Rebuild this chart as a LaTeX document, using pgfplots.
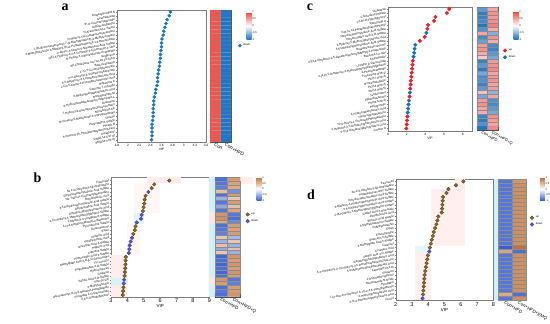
\documentclass[border=0pt]{standalone}
\usepackage{fontspec}
\setmainfont{Liberation Sans}
\newfontfamily\serifb{Liberation Serif}
\usepackage{pgfplots}
\pgfplotsset{compat=1.18}

\definecolor{adot}{RGB}{28,117,196}
\definecolor{cred}{RGB}{232,30,40}
\definecolor{cblue}{RGB}{25,110,190}
\definecolor{bup}{RGB}{140,105,40}
\definecolor{bupd}{RGB}{95,70,25}
\definecolor{bdown}{RGB}{85,80,215}
\definecolor{frame}{RGB}{125,125,125}

\pgfplotsset{
 /pgf/number format/assume math mode=true,
 colormap={rb}{rgb255(0cm)=(20,110,195); rgb255(1cm)=(255,255,255); rgb255(2cm)=(240,70,62)},
 colormap={bb}{rgb255(0cm)=(55,95,215); rgb255(1cm)=(255,255,255); rgb255(2cm)=(195,115,55)},
 vip/.style={scale only axis, anchor=south west, y dir=reverse, clip=false,
   axis line style={draw=frame, line width=0.4pt},
   tick style={draw=frame, line width=0.3pt}, tick align=outside, major tick length=1.2bp,
   xtick pos=bottom, ytick pos=left,
   yticklabel style={rotate=10, anchor=east, font=\fontsize{2.9}{3}\selectfont, inner sep=0.6bp},
   xticklabel style={inner sep=1bp},
   xlabel={VIP}, xlabel style={inner sep=0.5bp},
   legend style={draw=none, fill=none, inner sep=0pt, anchor=north west, row sep=-0.5bp, font=\fontsize{2.8}{3}\selectfont},
   legend cell align=left},
 hm/.style={scale only axis, anchor=south west, y dir=reverse, ymin=0.5, xmin=-0.5, xmax=1.5,
   ytick=\empty, xtick={0,1}, major tick length=0,
   axis line style={draw=black!70, line width=0.3pt},
   point meta min=-1, point meta max=1,
   xticklabel style={rotate=-30, anchor=north west, inner sep=0.5bp}, clip=false},
 cb/.style={colorbar, colorbar style={at={(parent axis.north east)}, anchor=north west, scale only axis,
   width=5bp, ytick={-1,-0.5,0,0.5,1}, major tick length=0, axis line style={draw=none},
   yticklabel style={font=\fontsize{2.6}{3}\selectfont, inner sep=0.6bp}}},
}

\begin{document}
\begin{tikzpicture}
\useasboundingbox (0,0) rectangle (550bp,324bp);

% ---------------- panel a ----------------
\begin{axis}[vip, at={(117bp,182bp)}, width=89bp, height=132bp,
  xmin=1.8, xmax=3.4, xtick={1.8,2,2.2,2.4,2.6,2.8,3,3.2,3.4},
  ymin=0.5, ymax=34.6, ytick={1,...,34},
  xticklabel style={font=\fontsize{3.2}{3.5}\selectfont},
  xlabel style={font=\fontsize{3.4}{3.5}\selectfont},
  yticklabels={{Gingerglycolipid B},{Isoschaftoside},{6''-O-Coumaroylgenistin},{ArgGlu-Glutamine},{N-Arachidonoyl-L-Serine},{3-Hydroxy-11Z-Octadecenoylcarnitine},{7-(11-Bromoundecyloxy)-7-(3-Methylbutanoyl)-4-Methylcoumarin},{3-Methylbutanoate 3-Methyl-5-(8,11-Pentadecadienyl)-1,3-Benzenediol},{2-Amino-3-Chloro-5-Nitrobenzoic Acid Sulfate},{(2E)-4-Hydroxy-2,3,4-Trimethyl-2-Cyclohexen-1-One},{N-Phenyl-3,4-Benzodioxole Acetamide},{Isoglycycol},{5β-Cholestane-3α,7α,12α,23-Tetrol},{Beta-Zearalenol},{2''-O-P-Coumaroylquercitrin},{3-O-Glucosyl-2,3-Dihydroxybenzoate},{3,5-Dihydroxy-4,5-Dimethoxybenzoic Acid},{L-Cis-5-Amino-2-Pyrrolidinecarboxylic Acid},{Hopanone A},{Catechin 7-Xyloside},{6-Hydroxypentadecanedioic Acid},{Norlichexanthone},{6-Hydroxytetradecanedioyl Adipoyl Bis-L},{Glutamine},{7-Hydroxy-6-Glucopyranosyloxycoumarin},{Myristoleoyl-EA},{N-(3-Hexyl-5-Methylfuran-2-Yl)Propanamide},{Dioscin},{Paracetamol Sulfate},{Plicatin B},{5-Amino-6-(5'-Phosphoribitylamino)Uracil},{Auraptenol},{DG(O-14:1/17:0)},{SM(d18:1/22:0)}},
  legend style={at={(1.36,0.76)}}]
\addplot[only marks, mark=*, mark size=1.6bp, color=adot] coordinates {
(2.76,1) (2.74,2) (2.70,3) (2.68,4) (2.66,5) (2.64,6) (2.63,7) (2.61,8) (2.60,9) (2.60,10)
(2.59,11) (2.58,12) (2.58,13) (2.57,14) (2.56,15) (2.55,16) (2.54,17) (2.53,18) (2.53,19) (2.52,20)
(2.50,21) (2.49,22) (2.47,23) (2.46,24) (2.46,25) (2.45,26) (2.45,27) (2.45,28) (2.44,29) (2.43,30)
(2.43,31) (2.43,32) (2.43,33) (2.42,34)};
\addlegendentry{down}
\end{axis}

\begin{axis}[hm, cb, at={(210bp,182bp)}, width=21bp, height=132bp, ymax=34.5, colormap name=rb,
  xticklabels={Con,Con+HFD}, xticklabel style={font=\fontsize{4.8}{5}\selectfont},
  colorbar style={xshift=7bp, yshift=-2bp, height=28bp}]
\addplot[matrix plot*, mesh/cols=2, point meta=explicit, draw=black!45, line width=0.15pt] table[meta=c] {
x y c
0 1 0.92
1 1 -0.95
0 2 0.92
1 2 -0.95
0 3 0.92
1 3 -0.95
0 4 0.92
1 4 -0.95
0 5 0.92
1 5 -0.95
0 6 0.92
1 6 -0.95
0 7 0.92
1 7 -0.95
0 8 0.92
1 8 -0.95
0 9 0.92
1 9 -0.95
0 10 0.92
1 10 -0.95
0 11 0.92
1 11 -0.95
0 12 0.92
1 12 -0.95
0 13 0.92
1 13 -0.95
0 14 0.92
1 14 -0.95
0 15 0.92
1 15 -0.95
0 16 0.92
1 16 -0.95
0 17 0.92
1 17 -0.95
0 18 0.92
1 18 -0.95
0 19 0.92
1 19 -0.95
0 20 0.92
1 20 -0.95
0 21 0.92
1 21 -0.95
0 22 0.92
1 22 -0.95
0 23 0.92
1 23 -0.95
0 24 0.92
1 24 -0.95
0 25 0.92
1 25 -0.95
0 26 0.92
1 26 -0.95
0 27 0.92
1 27 -0.95
0 28 0.92
1 28 -0.95
0 29 0.92
1 29 -0.95
0 30 0.92
1 30 -0.95
0 31 0.92
1 31 -0.95
0 32 0.92
1 32 -0.95
0 33 0.92
1 33 -0.95
0 34 0.92
1 34 -0.95
};
\end{axis}

% ---------------- panel c ----------------
\begin{axis}[vip, at={(388bp,193bp)}, width=84bp, height=123.7bp,
  xmin=0, xmax=9, xtick={0,2,4,6,8},
  ymin=0.57, ymax=31.65, ytick={1,...,31},
  xticklabel style={font=\fontsize{3.2}{3.5}\selectfont},
  xlabel style={font=\fontsize{3.4}{3.5}\selectfont},
  yticklabels={{Clobetasol},{Chenodeoxycholate},{1,2-Di-O-Tigloylglycerol},{Ikarisoside A},{3-(8,11,14-Pentadecatrienyl)Phenol},{Dihydroxyphenylvaleric Acid Sulfate},{Dihydrocaffeic Acid 3-O-Sulfate},{2-Hydroxy-5-Methoxyphenylacetic Acid},{3,5-Dihydroxyphenylvaleric Acid Sulfate},{Bisdemethoxycurcumin},{3-[(3,4-Dihydroxy-2,5-Dimethoxyphenyl)Methyl]-2-Propenoate},{Benzene-1,2-Diol},{Chenopodiol},{Urolithin A Glucuronide},{2-[2-(3,5-Dimethoxy-4-Hydroxyphenyl)Ethenyl]Phenol},{2-Phenylacetamide},{TG(14:0/16:0/18:1)},{PE(17:0/20:4)},{Nortrachelogenin},{PC(14:0/20:4)},{PA(14:0/20:5)},{Isoquinoline},{Epiandrosterone},{PS(18:1/20:4)},{Pelargonidin},{2-Hydroxyphenylacetic Acid},{Hydroxyprogesterone},{N-(1-Deoxy-1-Fructosyl)Phenylalanine},{2-Heptenyl-3,5-Dihydroxyphenylacetic Acid},{5-(3,4-Dihydroxyphenyl)Valeric Acid},{Corticin A}},
  legend style={at={(1.37,0.68)}}]
\addplot[only marks, mark=*, mark size=1.8bp, color=cred] coordinates {
(6.56,1) (6.31,2) (5.08,3) (4.94,4) (4.29,5) (4.22,6) (3.93,8) (3.42,9)
(2.66,14) (2.62,15) (2.58,16) (2.54,17) (2.50,18) (2.46,19) (2.42,20) (2.38,21)
(2.31,23) (2.08,28) (2.04,29) (2.00,30) (1.96,31)};
\addlegendentry{up}
\addplot[only marks, mark=*, mark size=1.8bp, color=cblue] coordinates {
(4.11,7) (2.92,10) (2.85,11) (2.80,12) (2.73,13) (2.34,22) (2.24,24) (2.20,25) (2.16,26) (2.12,27)};
\addlegendentry{down}
\end{axis}

\begin{axis}[hm, cb, at={(477bp,194bp)}, width=21bp, height=122.7bp, ymax=31.5, colormap name=rb,
  xticklabels={Con+HFD,Con+HFD+Q}, xticklabel style={font=\fontsize{4}{4.5}\selectfont},
  colorbar style={xshift=7bp, yshift=-4.4bp, height=28bp}]
\addplot[matrix plot*, mesh/cols=2, point meta=explicit, draw=black!45, line width=0.15pt] table[meta=c] {
x y c
0 1 -0.7
1 1 0.5
0 2 -0.9
1 2 0.6
0 3 -0.85
1 3 0.55
0 4 -0.8
1 4 0.6
0 5 -0.95
1 5 0.7
0 6 -0.75
1 6 0.45
0 7 0.5
1 7 -0.55
0 8 -0.8
1 8 0.6
0 9 -0.65
1 9 0.45
0 10 0.55
1 10 -0.8
0 11 0.6
1 11 -0.85
0 12 0.45
1 12 -0.7
0 13 0.3
1 13 -0.6
0 14 -0.85
1 14 0.55
0 15 -0.7
1 15 0.6
0 16 -0.9
1 16 0.65
0 17 -0.6
1 17 0.5
0 18 -0.8
1 18 0.55
0 19 -0.75
1 19 0.6
0 20 -0.85
1 20 0.5
0 21 -0.7
1 21 0.55
0 22 0.35
1 22 -0.5
0 23 -0.6
1 23 0.5
0 24 0.55
1 24 -0.75
0 25 0.6
1 25 -0.8
0 26 0.5
1 26 -0.7
0 27 0.45
1 27 -0.6
0 28 -0.85
1 28 0.6
0 29 -0.9
1 29 0.55
0 30 -0.75
1 30 0.5
0 31 -0.95
1 31 0.65
};
\end{axis}

% ---------------- panel b ----------------
\begin{axis}[vip, at={(111bp,27.3bp)}, width=98.3bp, height=119.4bp,
  xmin=3, xmax=9, xtick={3,4,5,6,7,8,9},
  ymin=0.15, ymax=31.45, ytick={1,...,31},
  xticklabel style={font=\fontsize{5.5}{6}\selectfont},
  xlabel style={font=\fontsize{4.5}{5}\selectfont},
  yticklabels={{Fasciculol},{3α,17α-Dihydroxy-5β-Androstane},{Dihydroxyphenylvaleric Acid Sulfate},{Na-Trans-P-Coumaroylspermidine},{Dihydroferulic Acid},{3,5-Dihydroxyphenylacetic Acid Sulfate},{Dihydrocaffeic Acid Sulfate},{Dihydroxyphenylpentanoic Acid},{2-(4-Hydroxy-3-Methoxyphenyl)Ethanol Sulfate},{2-Methoxy-4-Vinylphenol Sulfate},{4-(3,4-Dihydroxyphenyl)-2-Butanone},{Pyrocatechol Sulfate},{Enterolactone},{Equol},{Isoferulic Acid},{Tetrahydrofolic Acid},{Isovanillic Acid 3-Sulfate},{Hippuric Acid},{Catechol Sulfate},{Homovanillic Acid 3-Sulfate},{Methylgallic Acid 3-O-β-D-Glucuronide},{Tyr-Leu-Gln},{Propylparaben 4-O-Sulfate},{Hydroxytyrosol},{Guaiacol},{Vanillic Acid 4-O-Sulfate},{Phe-Ile-Gly},{4-Methylcatechol},{Glucosaminyl-(1,4)-β-Muramyl-Pentapeptide},{Pyrogallol 2-O-Glucuronide},{2,4,6-Trimethylphenol}},
  legend style={at={(1.37,0.72)}}]
\fill[pink!30] (axis cs:5.2,0.15) rectangle (axis cs:7.3,1.6);
\fill[pink!15] (axis cs:4.4,1.6) rectangle (axis cs:6.0,9.5);
\fill[cyan!12] (axis cs:4.4,9.5) rectangle (axis cs:5.0,12.5);
\fill[pink!15] (axis cs:4.0,12.5) rectangle (axis cs:4.8,20.5);
\fill[pink!30] (axis cs:3,20.5) rectangle (axis cs:3.95,31.45);
\fill[cyan!15] (axis cs:3,26.5) rectangle (axis cs:4.05,28.5);
\addplot[only marks, mark=*, mark size=1.8bp, draw=bupd, fill=bup] coordinates {
(6.56,1) (5.64,2) (5.48,3) (5.11,5) (5.05,6) (5.03,7) (4.99,8) (4.95,9)
(4.50,13) (4.46,14) (4.36,15) (3.91,21) (3.89,22) (3.88,23) (3.87,24) (3.85,25) (3.83,26)
(3.76,29) (3.74,30) (3.72,31)};
\addlegendentry{up}
\addplot[only marks, mark=*, mark size=1.8bp, draw=bdown!80!black, fill=bdown] coordinates {
(5.28,4) (4.87,10) (4.83,11) (4.57,12) (4.28,16) (4.20,17) (4.14,18) (4.12,19) (4.08,20) (3.80,27) (3.78,28)};
\addlegendentry{down}
\end{axis}

\begin{axis}[hm, cb, at={(215bp,27.3bp)}, width=25bp, height=119.4bp, ymax=31.5, colormap name=bb,
  xticklabels={Con+HFD,Con+HFD+Q}, xticklabel style={font=\fontsize{4.5}{5}\selectfont},
  colorbar style={xshift=8bp, yshift=0bp, height=23.3bp}]
\fill[cyan!18] (axis cs:-0.96,0.5) rectangle (axis cs:-0.5,31.5);
\fill[pink!40] (axis cs:-0.96,9.5) rectangle (axis cs:-0.5,12.5);
\fill[pink!40] (axis cs:-0.96,26.5) rectangle (axis cs:-0.5,28.5);
\fill[pink!30] (axis cs:1.5,0.5) rectangle (axis cs:2.5,2.2);
\addplot[matrix plot*, mesh/cols=2, point meta=explicit, draw=black!45, line width=0.15pt] table[meta=c] {
x y c
0 1 -0.9
1 1 0.7
0 2 -0.85
1 2 0.65
0 3 -0.8
1 3 0.6
0 4 0.45
1 4 -0.7
0 5 -0.9
1 5 0.7
0 6 -0.5
1 6 0.4
0 7 -0.85
1 7 0.7
0 8 -0.55
1 8 0.45
0 9 -0.85
1 9 0.65
0 10 0.75
1 10 -0.85
0 11 0.8
1 11 -0.9
0 12 0.6
1 12 -0.75
0 13 -0.9
1 13 0.7
0 14 -0.85
1 14 0.65
0 15 -0.8
1 15 0.7
0 16 0.4
1 16 -0.45
0 17 -0.5
1 17 0.4
0 18 0.45
1 18 -0.5
0 19 -0.55
1 19 0.45
0 20 0.4
1 20 -0.5
0 21 -0.95
1 21 0.75
0 22 -0.9
1 22 0.7
0 23 -0.95
1 23 0.75
0 24 -0.9
1 24 0.7
0 25 -0.95
1 25 0.75
0 26 -0.9
1 26 0.7
0 27 0.75
1 27 -0.85
0 28 0.7
1 28 -0.8
0 29 -0.9
1 29 0.7
0 30 -0.85
1 30 0.7
0 31 -0.9
1 31 0.75
};
\end{axis}

% ---------------- panel d ----------------
\begin{axis}[vip, at={(395.7bp,24bp)}, width=97.6bp, height=121bp,
  xmin=2, xmax=8, xtick={2,3,4,5,6,7,8},
  ymin=0.4, ymax=31.44, ytick={1,...,31},
  xticklabel style={font=\fontsize{5.5}{6}\selectfont},
  xlabel style={font=\fontsize{4.5}{5}\selectfont},
  yticklabels={{Fasciculol},{3α,17α-Dihydroxy-5β-Androstane},{Tetrahydrocurcumin Sulfate},{Dihydroxyphenylvaleric Acid Sulfate},{3-Methoxy-4-Hydroxyphenylacetic Acid Sulfate},{3,5-Dihydroxyphenylvaleric Acid Sulfate},{2-(4-Hydroxy-3-Methoxyphenyl)Ethanol Sulfate},{Caffeic Acid 3-Glucoside},{Dihydroferulic Acid},{Benzoic Acid Sulfate},{3-Methylcatechol 2-Sulfate},{4-Methylcatechol},{Equol},{Enterolactone},{Quercetin 3-Sulfate},{3-Methylgallic Acid 5-Sulfate},{Catechol},{Coumaric Acid},{Vanillic Acid 4-O-Sulfate},{Dihydroxyphenylpropanoic Acid},{4,4'-Dihydroxy-2'-(4-Hydroxy-3,5-Dimethoxybenzyl)Chalcone},{3,4-Methylenedioxyphenylacetic Acid},{CerP(d18:1/12:0)},{Guaiacol},{2,6-Dimethoxyphenol},{Nicotinamide N-Oxide},{Pyrogallol},{7-(2-Oxo-2H-Chromen-6-Yl)-2,4,6-Trimethylphenol},{4-Hydroxyphenylacetic Acid},{3-(3,4-Dihydroxyphenyl)Lactic Acid},{Cresol}},
  legend style={at={(1.376,0.71)}}]
\fill[pink!30] (axis cs:5.64,0.4) rectangle (axis cs:6.25,3);
\fill[pink!25] (axis cs:4.2,3) rectangle (axis cs:6.25,17.5);
\fill[cyan!10] (axis cs:3.18,17.5) rectangle (axis cs:4.2,19);
\fill[pink!25] (axis cs:3.18,19) rectangle (axis cs:4.2,31.44);
\addplot[only marks, mark=*, mark size=1.8bp, draw=bupd, fill=bup] coordinates {
(6.16,1) (5.71,2) (5.24,3) (5.12,4) (4.91,5) (4.89,6) (4.87,7) (4.85,8) (4.83,9) (4.62,10)
(4.56,11) (4.50,12) (4.42,13) (4.34,14) (4.28,15) (4.22,16) (4.16,17) (4.10,18)
(3.98,20) (3.94,21) (3.90,22) (3.86,23) (3.82,24) (3.78,25) (3.76,26) (3.74,27) (3.72,28) (3.70,29) (3.68,30)};
\addlegendentry{up}
\addplot[only marks, mark=*, mark size=1.8bp, draw=bdown!80!black, fill=bdown] coordinates {
(4.06,19) (3.65,31)};
\addlegendentry{down}
\end{axis}

\begin{axis}[hm, cb, at={(498.3bp,24bp)}, width=27.4bp, height=121bp, ymax=31.5, colormap name=bb,
  xticklabels={Con+HFD,Con+HFD+EMQ}, xticklabel style={font=\fontsize{4.5}{5}\selectfont},
  colorbar style={xshift=5.7bp, yshift=1bp, height=22.3bp}]
\fill[cyan!18] (axis cs:-0.81,0.5) rectangle (axis cs:-0.5,31.5);
\addplot[matrix plot*, mesh/cols=2, point meta=explicit, draw=black!45, line width=0.15pt] table[meta=c] {
x y c
0 1 -0.85
1 1 0.75
0 2 -0.85
1 2 0.8
0 3 -0.85
1 3 0.8
0 4 -0.85
1 4 0.8
0 5 -0.85
1 5 0.8
0 6 -0.85
1 6 0.8
0 7 -0.85
1 7 0.8
0 8 -0.85
1 8 0.8
0 9 -0.85
1 9 0.8
0 10 -0.85
1 10 0.8
0 11 -0.85
1 11 0.8
0 12 -0.85
1 12 0.8
0 13 -0.85
1 13 0.8
0 14 -0.85
1 14 0.8
0 15 -0.85
1 15 0.8
0 16 -0.85
1 16 0.8
0 17 -0.85
1 17 0.8
0 18 -1
1 18 1
0 19 0.65
1 19 -0.9
0 20 -0.85
1 20 0.8
0 21 -0.85
1 21 0.8
0 22 -0.85
1 22 0.8
0 23 -0.85
1 23 0.8
0 24 -0.85
1 24 0.8
0 25 -0.85
1 25 0.8
0 26 -0.85
1 26 0.8
0 27 -0.85
1 27 0.8
0 28 -0.85
1 28 0.8
0 29 -0.85
1 29 0.8
0 30 0.6
1 30 -0.9
0 31 -0.85
1 31 0.8
};
\end{axis}

% panel letters
\node[font=\serifb\bfseries\fontsize{14}{14}\selectfont] at (65bp,317bp) {a};
\node[font=\serifb\bfseries\fontsize{14}{14}\selectfont] at (310bp,316.5bp) {c};
\node[font=\serifb\bfseries\fontsize{14}{14}\selectfont] at (37.5bp,146bp) {b};
\node[font=\serifb\bfseries\fontsize{14}{14}\selectfont] at (311bp,129bp) {d};
\end{tikzpicture}
\end{document}
